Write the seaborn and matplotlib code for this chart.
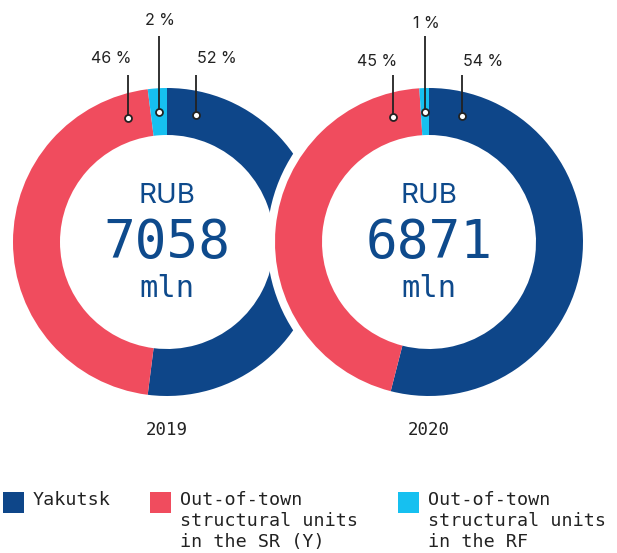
import matplotlib
matplotlib.use("Agg")
import numpy as np
import matplotlib.pyplot as plt
import seaborn as sns
from matplotlib.patches import Circle, Rectangle

# --- data -------------------------------------------------------------
categories = [
    "Yakutsk",
    "Out-of-town\nstructural units\nin the SR (Y)",
    "Out-of-town\nstructural units\nin the RF",
]
years = ["2019", "2020"]
shares_2019 = [52, 46, 2]
shares_2020 = [54, 45, 1]
totals = ["7058", "6871"]
currency = "RUB"
unit = "mln"

# --- style ------------------------------------------------------------
palette = sns.color_palette(["#0E4689", "#F04C5E", "#16C0F0"])
ink = "#222222"
navy = "#0E4A8C"
mono = "DejaVu Sans Mono"

sns.set_theme(style="white")
plt.rcParams["font.family"] = ["Inter", "DejaVu Sans"]

W, H = 617, 553
fig = plt.figure(figsize=(W / 100, H / 100), dpi=100)
ax = fig.add_axes([0, 0, 1, 1])


def py(y):
    """Convert a distance from the top edge into an axes y value."""
    return H - y


R_OUT, RING = 154, 47
R_MID = R_OUT - RING / 2
charts = [
    dict(shares=shares_2019, year=years[0], total=totals[0], cx=167, cy=py(242),
         angles=[13, -17.5], base_big=63, base_small=25, z=1),
    dict(shares=shares_2020, year=years[1], total=totals[1], cx=429, cy=py(242),
         angles=[14.5, -16], base_big=66, base_small=28, z=4),
]

for c in charts:
    cx, cy, z = c["cx"], c["cy"], c["z"]
    if z > 1:
        # white halo separating the front ring from the one behind it
        ax.add_patch(Circle((cx, cy), R_OUT + 8, facecolor="white",
                            edgecolor="none", zorder=z - 1))
    ax.pie(c["shares"], colors=palette, startangle=90, counterclock=False,
           radius=R_OUT, center=(cx, cy), frame=True,
           wedgeprops=dict(width=RING, linewidth=0, zorder=z))

    # leader lines with percentage labels
    small_angle = -c["shares"][2] * 3.6 / 2
    angles = [c["angles"][0], c["angles"][1], small_angle]
    for i, (share, a) in enumerate(zip(c["shares"], angles)):
        rad = np.deg2rad(a)
        x = cx + R_MID * np.sin(rad)
        y = cy + R_MID * np.cos(rad)
        top = py(36) if i == 2 else py(75)
        ax.plot([x, x], [y, top], color=ink, lw=1.3, zorder=10,
                solid_capstyle="butt")
        ax.plot([x], [y], marker="o", ms=5, mfc="white", mec=ink,
                mew=1.3, zorder=11)
        if i == 0:
            tx, ha, by = x + 1, "left", c["base_big"]
        elif i == 1:
            tx, ha, by = x + 4, "right", c["base_big"]
        else:
            tx, ha, by = x + 1, "center", c["base_small"]
        ax.text(tx, py(by), f"{share} %", ha=ha, va="baseline",
                fontsize=11.5, color=ink, zorder=12)

    # centre caption
    ax.text(cx, py(203), currency, ha="center", va="baseline",
            fontsize=20, color=navy, zorder=12)
    ax.text(cx, py(258), c["total"], ha="center", va="baseline",
            fontsize=38, color=navy, family=mono, zorder=12)
    ax.text(cx, py(297), unit, ha="center", va="baseline",
            fontsize=22, color=navy, family=mono, zorder=12)
    ax.text(cx, py(435), c["year"], ha="center", va="baseline",
            fontsize=12.5, color=ink, family=mono, zorder=12)

# legend
legend_x = [3, 150, 398]
for x0, label, col in zip(legend_x, categories, palette):
    ax.add_patch(Rectangle((x0, py(513)), 21, 21, facecolor=col,
                           edgecolor="none", zorder=12))
    ax.text(x0 + 30, py(491), label, ha="left", va="top",
            fontsize=13.2, color=ink, family=mono, linespacing=1.22,
            zorder=12)

ax.set_xlim(0, W)
ax.set_ylim(0, H)
ax.set_aspect("equal")
ax.set_autoscale_on(False)
ax.axis("off")

fig.savefig("out.png", dpi=100, facecolor="white")
